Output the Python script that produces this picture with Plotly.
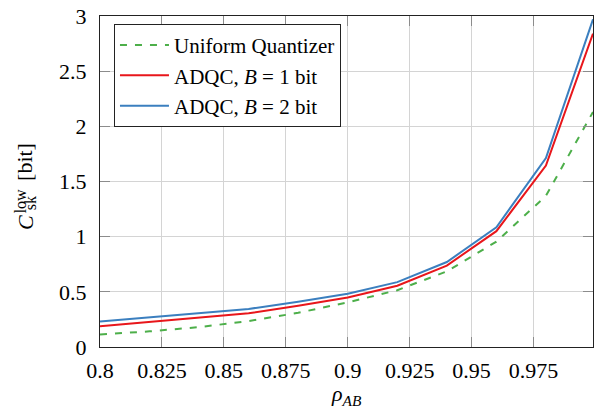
import plotly.graph_objects as go

# ---- data ----
rho = [0.80, 0.82, 0.84, 0.86, 0.88, 0.90, 0.92, 0.94, 0.96, 0.98, 0.999]
uniform = [0.113, 0.142, 0.180, 0.235, 0.310, 0.405, 0.515, 0.685, 0.955, 1.370, 2.13]
adqc_b1 = [0.188, 0.225, 0.265, 0.305, 0.373, 0.448, 0.555, 0.738, 1.050, 1.645, 2.84]
adqc_b2 = [0.232, 0.268, 0.305, 0.345, 0.410, 0.482, 0.588, 0.770, 1.085, 1.712, 2.97]

x_tickvals = [0.8, 0.825, 0.85, 0.875, 0.9, 0.925, 0.95, 0.975]
x_ticktext = ["0.8", "0.825", "0.85", "0.875", "0.9", "0.925", "0.95", "0.975"]
y_tickvals = [0, 0.5, 1, 1.5, 2, 2.5, 3]
y_ticktext = ["0", "0.5", "1", "1.5", "2", "2.5", "3"]

names = ["Uniform Quantizer", "ADQC, <i>B</i> = 1 bit", "ADQC, <i>B</i> = 2 bit"]

FONT = "'Liberation Serif', 'Times New Roman', 'DejaVu Serif', serif"
W, H = 598, 411
ML, MR, MT, MB = 100, 4, 11, 64
PW, PH = W - ML - MR, H - MT - MB


def px2paper(px, py):
    return (px - ML) / PW, (H - MB - py) / PH


fig = go.Figure()
fig.add_trace(go.Scatter(x=rho, y=uniform, mode="lines", name=names[0],
                         line=dict(color="#4daf4a", width=2, dash="7px,8px")))
fig.add_trace(go.Scatter(x=rho, y=adqc_b1, mode="lines", name=names[1],
                         line=dict(color="#e8161b", width=2)))
fig.add_trace(go.Scatter(x=rho, y=adqc_b2, mode="lines", name=names[2],
                         line=dict(color="#3b7fbf", width=2)))

axis_common = dict(
    showgrid=True, gridcolor="#d4d4d4", gridwidth=1,
    showline=True, linecolor="#222222", linewidth=1.3, mirror="allticks",
    ticks="inside", ticklen=10, tickcolor="#8c8c8c", tickwidth=1,
    tickfont=dict(family=FONT, size=22, color="black"),
    zeroline=False, ticklabeloverflow="allow",
)

fig.update_xaxes(range=[0.8, 0.999], tickvals=x_tickvals, ticktext=x_ticktext,
                 ticklabelstandoff=3, **axis_common)
fig.update_yaxes(range=[0, 3], tickvals=y_tickvals, ticktext=y_ticktext,
                 ticklabelstandoff=8, **axis_common)

annotations = []


def add_ann(text, px, py, size, angle=0):
    ax, ay = px2paper(px, py)
    annotations.append(dict(text=text, x=ax, y=ay, xref="paper", yref="paper",
                            xanchor="center", yanchor="middle", showarrow=False,
                            textangle=angle, font=dict(family=FONT, size=size, color="black")))


# y-axis label: C_sk^low [bit] (rotated)
add_ann("<i>C</i>", 26, 221, 22, -90)
add_ann("low", 20, 199, 16, -90)
add_ann("sk", 30, 201, 16, -90)
add_ann("[bit]", 25, 159, 22, -90)
# x-axis label
add_ann("<i>ρ</i><sub><i>AB</i></sub>", 347, 396, 22)

lx, ly = px2paper(114, 19)
fig.update_layout(
    width=W, height=H,
    margin=dict(l=ML, r=MR, t=MT, b=MB),
    paper_bgcolor="white", plot_bgcolor="white",
    font=dict(family=FONT, size=21, color="black"),
    annotations=annotations,
    showlegend=True,
    legend=dict(x=lx, y=ly, xanchor="left", yanchor="top",
                bgcolor="white", bordercolor="#222222", borderwidth=1,
                font=dict(family=FONT, size=21, color="black"),
                itemwidth=49),
)

fig.write_html("out.html")
